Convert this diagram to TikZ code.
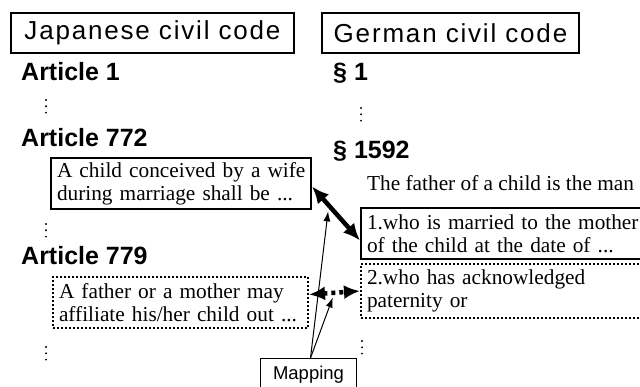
\documentclass[tikz,border=0pt]{standalone}
\usepackage{fontspec}
\setmainfont{Liberation Serif}
\setsansfont{Liberation Sans}
\newfontfamily\hdrfont[LetterSpace=7]{Liberation Sans}
\usetikzlibrary{arrows.meta,calc}
\begin{document}
\begin{tikzpicture}[x=1pt,y=-1pt,
  hdr/.style={draw, line width=2pt, font=\hdrfont\fontsize{26}{30}\selectfont,
    minimum height=40pt, inner sep=0pt, anchor=north west},
  art/.style={font=\sffamily\bfseries\fontsize{25}{30}\selectfont, anchor=base west, inner sep=0pt},
  txt/.style={font=\rmfamily\fontsize{21.3}{23}\selectfont, align=left, anchor=north west,
    inner xsep=6pt, inner ysep=0pt, line width=2pt},
  solidbox/.style={txt, draw},
  dotbox/.style={txt, draw, dash pattern=on 2pt off 2pt},
  plain/.style={font=\rmfamily\fontsize{21.3}{23}\selectfont, anchor=base west, inner sep=0pt},
  mapbox/.style={draw, line width=1pt, font=\sffamily\fontsize{18.5}{20}\selectfont, anchor=north west,
    minimum width=96pt, text height=13pt, text depth=15pt, inner ysep=8pt},
  bigarrow/.style={line width=4.5pt, {Latex[length=17pt,width=15pt]}-{Latex[length=17pt,width=15pt]}},
  dotarrow/.style={line width=4.5pt, dash pattern=on 4pt off 4pt, {Latex[length=16pt,width=14pt]}-{Latex[length=16pt,width=14pt]}},
  thinarrow/.style={line width=1pt, -{Latex[length=10pt,width=7pt]}},
  vdot/.pic={\foreach \k in {0,6.3,12.6} \fill (0,\k) circle[radius=1.05pt];}
]
\useasboundingbox (0,0) rectangle (640,387);
\clip (0,0) rectangle (640,387);

% headers
\node[hdr, minimum width=283pt] (jh) at (10,12) {Japanese civil code};
\node[hdr, minimum width=257pt] (gh) at (321,12) {German civil code};

% left column
\node[art] (a1) at (21,81) {Article 1};
\pic at (46,100) {vdot};
\node[art] (a772) at (21,147) {Article 772};
\node[solidbox, minimum height=51pt, text width=248pt] (j772) at (50,157)
  {\mbox{A child conceived by a wife}\\\mbox{during marriage shall be ...}};
\pic at (46,224) {vdot};
\node[art] (a779) at (21,265) {Article 779};
\node[dotbox, minimum height=51pt, text width=243pt] (j779) at (52,276)
  {\mbox{A father or a mother may}\\\mbox{affiliate his/her child out ...}};
\pic at (46,347) {vdot};

% right column
\node[art] (s1) at (333,81) {§ 1};
\pic at (361,108) {vdot};
\node[art] (s1592) at (333,159) {§ 1592};
\node[plain] (fth) at (367,191) {The father of a child is the man};
\node[solidbox, minimum height=51pt, text width=300pt] (g1) at (360,207)
  {\mbox{1.who is married to the mother}\\\mbox{of the child at the date of ...}};
\node[dotbox, minimum height=54pt, text width=300pt] (g2) at (360,263)
  {\mbox{2.who has acknowledged}\\\mbox{paternity or}};
\pic at (362,341) {vdot};

% mapping
\node[mapbox] (map) at (260,358) {Mapping};

% connectors
\draw[bigarrow] ([yshift=-3pt]j772.east) -- coordinate[pos=0.35] (m1) ([yshift=-7pt]g1.west);
\draw[dotarrow] ([yshift=8pt]j779.east) -- coordinate[pos=0.5] (m2) (g2.west);
\draw[thinarrow, shorten >=6pt] ([xshift=2pt]map.north) -- (m1);
\draw[thinarrow, shorten >=5pt] ([xshift=2pt]map.north) -- (m2);
\end{tikzpicture}
\end{document}
